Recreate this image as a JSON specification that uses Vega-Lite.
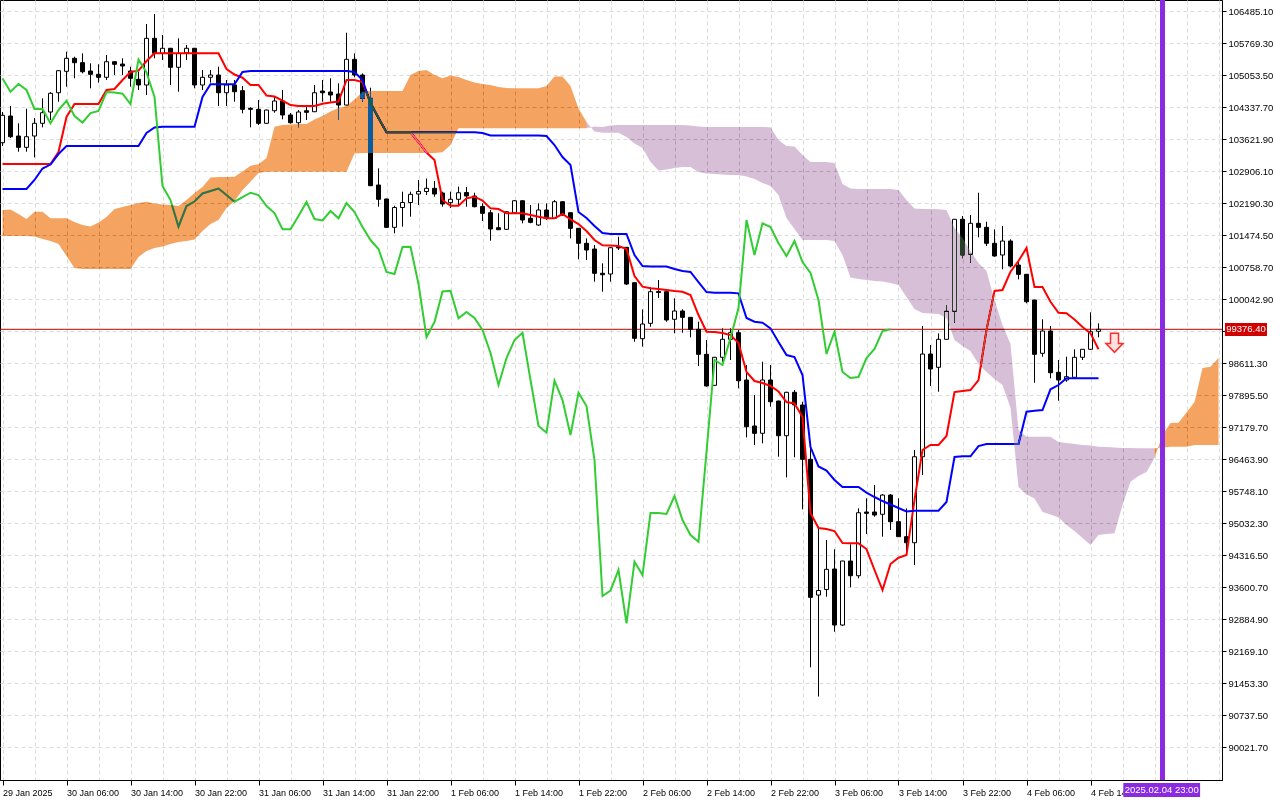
{
"$schema": "https://vega.github.io/schema/vega-lite/v6.json",
"width": 1222,
"height": 780,
"autosize": {"type": "none"},
"padding": {"left": 0, "top": 0, "right": 58, "bottom": 20},
"config": {
  "background": "white",
  "view": {"stroke": "#000000", "strokeWidth": 1},
  "axis": {"labelFont": "Liberation Sans", "labelColor": "#000000", "tickColor": "#000000", "domainColor": "#000000", "gridColor": "#dcdcdc", "gridDash": [4, 3], "gridWidth": 1}
},
"datasets": {
"bars": [
{"h":0,"open":103550,"high":104237,"low":103476,"close":104163,"tenkan":103074,"kijun":102514,"chikou":104986},
{"h":1,"open":104147,"high":104371,"low":103655,"close":103684,"tenkan":103074,"kijun":102514,"chikou":104691},
{"h":2,"open":103700,"high":103984,"low":103349,"close":103447,"tenkan":103074,"kijun":102514,"chikou":104863},
{"h":3,"open":103447,"high":104311,"low":103349,"close":103684,"tenkan":103074,"kijun":102514,"chikou":104729},
{"h":4,"open":103700,"high":104103,"low":103223,"close":103984,"tenkan":103074,"kijun":102716,"chikou":104304},
{"h":5,"open":103984,"high":104543,"low":103894,"close":104221,"tenkan":103074,"kijun":102973,"chikou":104304},
{"h":6,"open":104237,"high":104680,"low":104058,"close":104655,"tenkan":103074,"kijun":103062,"chikou":103984},
{"h":7,"open":104668,"high":105170,"low":104467,"close":105161,"tenkan":103342,"kijun":103297,"chikou":104281},
{"h":8,"open":105147,"high":105586,"low":104803,"close":105438,"tenkan":104125,"kijun":103476,"chikou":104489},
{"h":9,"open":105438,"high":105474,"low":104991,"close":105340,"tenkan":104416,"kijun":103476,"chikou":104147},
{"h":10,"open":105340,"high":105550,"low":105102,"close":105138,"tenkan":104416,"kijun":103476,"chikou":104002},
{"h":11,"open":105154,"high":105326,"low":104767,"close":105080,"tenkan":104416,"kijun":103476,"chikou":104214},
{"h":12,"open":105080,"high":105304,"low":104892,"close":105013,"tenkan":104416,"kijun":103476,"chikou":104259},
{"h":13,"open":105013,"high":105512,"low":104953,"close":105362,"tenkan":104729,"kijun":103476,"chikou":104684},
{"h":14,"open":105362,"high":105370,"low":105064,"close":105304,"tenkan":104751,"kijun":103476,"chikou":104673},
{"h":15,"open":105310,"high":105438,"low":105064,"close":105266,"tenkan":104953,"kijun":103476,"chikou":104646},
{"h":16,"open":105154,"high":105250,"low":104803,"close":104991,"tenkan":105131,"kijun":103476,"chikou":104416},
{"h":17,"open":104968,"high":105138,"low":104729,"close":104841,"tenkan":105161,"kijun":103476,"chikou":105411},
{"h":18,"open":104841,"high":106205,"low":104617,"close":105885,"tenkan":105378,"kijun":103767,"chikou":105120},
{"h":19,"open":105885,"high":106429,"low":105438,"close":105550,"tenkan":105550,"kijun":103890,"chikou":104572},
{"h":20,"open":105550,"high":105959,"low":105400,"close":105662,"tenkan":105550,"kijun":103908,"chikou":102581},
{"h":21,"open":105662,"high":105670,"low":104841,"close":105237,"tenkan":105550,"kijun":103908,"chikou":102268},
{"h":22,"open":105237,"high":105885,"low":104691,"close":105550,"tenkan":105550,"kijun":103908,"chikou":101671},
{"h":23,"open":105563,"high":105735,"low":105400,"close":105662,"tenkan":105550,"kijun":103908,"chikou":102134},
{"h":24,"open":105662,"high":105670,"low":104767,"close":104841,"tenkan":105550,"kijun":103908,"chikou":102235},
{"h":25,"open":104841,"high":105176,"low":104729,"close":105013,"tenkan":105550,"kijun":104572,"chikou":102414},
{"h":26,"open":105013,"high":105176,"low":104892,"close":105064,"tenkan":105550,"kijun":104856,"chikou":102470},
{"h":27,"open":105064,"high":105250,"low":104371,"close":104668,"tenkan":105550,"kijun":104856,"chikou":102525},
{"h":28,"open":104668,"high":104953,"low":104371,"close":104841,"tenkan":105199,"kijun":104856,"chikou":102380},
{"h":29,"open":104841,"high":104953,"low":104467,"close":104691,"tenkan":105076,"kijun":104856,"chikou":102230},
{"h":30,"open":104713,"high":104818,"low":104208,"close":104297,"tenkan":105004,"kijun":105131,"chikou":102335},
{"h":31,"open":104319,"high":104342,"low":103894,"close":104297,"tenkan":104841,"kijun":105154,"chikou":102431},
{"h":32,"open":104297,"high":104505,"low":103946,"close":103984,"tenkan":104841,"kijun":105154,"chikou":102380},
{"h":33,"open":103984,"high":104290,"low":103975,"close":104281,"tenkan":104606,"kijun":105154,"chikou":102134},
{"h":34,"open":104266,"high":104595,"low":104221,"close":104483,"tenkan":104583,"kijun":105154,"chikou":101977},
{"h":35,"open":104483,"high":104729,"low":104073,"close":104170,"tenkan":104494,"kijun":105154,"chikou":101613},
{"h":36,"open":104170,"high":104214,"low":103979,"close":103997,"tenkan":104393,"kijun":105154,"chikou":101613},
{"h":37,"open":103997,"high":104281,"low":103894,"close":104237,"tenkan":104371,"kijun":105154,"chikou":101910},
{"h":38,"open":104266,"high":104393,"low":104058,"close":104230,"tenkan":104371,"kijun":105154,"chikou":102223},
{"h":39,"open":104243,"high":104841,"low":104235,"close":104668,"tenkan":104371,"kijun":105154,"chikou":101843},
{"h":40,"open":104706,"high":104953,"low":104467,"close":104668,"tenkan":104422,"kijun":105154,"chikou":101810},
{"h":41,"open":104684,"high":104991,"low":104467,"close":104617,"tenkan":104449,"kijun":105154,"chikou":102022},
{"h":42,"open":104639,"high":104879,"low":104058,"close":104393,"tenkan":104472,"kijun":105154,"chikou":101859},
{"h":43,"open":104393,"high":106010,"low":104385,"close":105415,"tenkan":104953,"kijun":105154,"chikou":102201},
{"h":44,"open":105415,"high":105550,"low":105013,"close":105064,"tenkan":104953,"kijun":105131,"chikou":102000},
{"h":45,"open":105064,"high":105102,"low":104467,"close":104543,"tenkan":104908,"kijun":104953,"chikou":101664},
{"h":46,"open":104543,"high":104780,"low":102580,"close":102588,"tenkan":104438,"kijun":104438,"chikou":101373},
{"h":47,"open":102604,"high":102977,"low":102118,"close":102284,"tenkan":104103,"kijun":104103,"chikou":101172},
{"h":48,"open":102291,"high":102300,"low":101642,"close":101657,"tenkan":103783,"kijun":103783,"chikou":100658},
{"h":49,"open":101657,"high":102140,"low":101523,"close":102100,"tenkan":103783,"kijun":103783,"chikou":100613},
{"h":50,"open":102100,"high":102454,"low":101671,"close":102212,"tenkan":103783,"kijun":103783,"chikou":101217},
{"h":51,"open":102212,"high":102454,"low":101895,"close":102396,"tenkan":103783,"kijun":103783,"chikou":101224},
{"h":52,"open":102402,"high":102716,"low":102156,"close":102458,"tenkan":103566,"kijun":103783,"chikou":100389},
{"h":53,"open":102458,"high":102749,"low":102380,"close":102530,"tenkan":103331,"kijun":103783,"chikou":99204},
{"h":54,"open":102530,"high":102693,"low":102342,"close":102402,"tenkan":103163,"kijun":103783,"chikou":99539},
{"h":55,"open":102425,"high":102454,"low":102118,"close":102179,"tenkan":102268,"kijun":103783,"chikou":100221},
{"h":56,"open":102208,"high":102454,"low":102089,"close":102284,"tenkan":102141,"kijun":103783,"chikou":100239},
{"h":57,"open":102284,"high":102566,"low":102156,"close":102431,"tenkan":102141,"kijun":103783,"chikou":99622},
{"h":58,"open":102436,"high":102559,"low":102118,"close":102358,"tenkan":102306,"kijun":103783,"chikou":99763},
{"h":59,"open":102358,"high":102431,"low":102105,"close":102118,"tenkan":102342,"kijun":103783,"chikou":99629},
{"h":60,"open":102123,"high":102194,"low":101798,"close":101971,"tenkan":102257,"kijun":103767,"chikou":99360},
{"h":61,"open":101984,"high":102045,"low":101358,"close":101620,"tenkan":102082,"kijun":103711,"chikou":98846},
{"h":62,"open":101649,"high":101971,"low":101597,"close":101604,"tenkan":102067,"kijun":103711,"chikou":98130},
{"h":63,"open":101613,"high":102015,"low":101605,"close":102006,"tenkan":101971,"kijun":103711,"chikou":98734},
{"h":64,"open":101984,"high":102268,"low":101980,"close":102252,"tenkan":101971,"kijun":103711,"chikou":99137},
{"h":65,"open":102252,"high":102260,"low":101747,"close":101821,"tenkan":101971,"kijun":103711,"chikou":99300},
{"h":66,"open":101859,"high":102156,"low":101747,"close":101769,"tenkan":101933,"kijun":103711,"chikou":98242},
{"h":67,"open":101709,"high":102194,"low":101687,"close":102045,"tenkan":101895,"kijun":103711,"chikou":97213},
{"h":68,"open":102045,"high":102194,"low":101821,"close":101859,"tenkan":101859,"kijun":103700,"chikou":97063},
{"h":69,"open":101859,"high":102268,"low":101850,"close":102230,"tenkan":101859,"kijun":103499,"chikou":98226},
{"h":70,"open":102230,"high":102238,"low":101910,"close":101933,"tenkan":101955,"kijun":103230,"chikou":97794},
{"h":71,"open":101984,"high":101990,"low":101411,"close":101635,"tenkan":101837,"kijun":103051,"chikou":97012},
{"h":72,"open":101635,"high":101640,"low":100942,"close":101300,"tenkan":101731,"kijun":102000,"chikou":97958},
{"h":73,"open":101300,"high":101411,"low":100926,"close":101150,"tenkan":101575,"kijun":101866,"chikou":97660},
{"h":74,"open":101172,"high":101262,"low":100441,"close":100629,"tenkan":101373,"kijun":101687,"chikou":96452},
{"h":75,"open":100629,"high":100852,"low":100217,"close":100597,"tenkan":101255,"kijun":101530,"chikou":93410},
{"h":76,"open":100613,"high":101210,"low":100441,"close":101201,"tenkan":101250,"kijun":101508,"chikou":93529},
{"h":77,"open":101224,"high":101447,"low":101150,"close":101195,"tenkan":101239,"kijun":101508,"chikou":93992},
{"h":78,"open":101210,"high":101215,"low":100367,"close":100389,"tenkan":101172,"kijun":101508,"chikou":92799},
{"h":79,"open":100418,"high":100425,"low":99099,"close":99175,"tenkan":100568,"kijun":101038,"chikou":94177},
{"h":80,"open":99166,"high":99823,"low":98987,"close":99494,"tenkan":100329,"kijun":100792,"chikou":93880},
{"h":81,"open":99510,"high":100315,"low":99434,"close":100217,"tenkan":100293,"kijun":100781,"chikou":95267},
{"h":82,"open":100221,"high":100479,"low":100076,"close":100199,"tenkan":100277,"kijun":100781,"chikou":95267},
{"h":83,"open":100217,"high":100225,"low":99546,"close":99584,"tenkan":100255,"kijun":100781,"chikou":95244},
{"h":84,"open":99600,"high":100069,"low":99286,"close":99785,"tenkan":100233,"kijun":100725,"chikou":95647},
{"h":85,"open":99785,"high":99823,"low":99300,"close":99644,"tenkan":100217,"kijun":100680,"chikou":95110},
{"h":86,"open":99644,"high":99650,"low":99197,"close":99376,"tenkan":100143,"kijun":100658,"chikou":94775},
{"h":87,"open":99376,"high":99546,"low":98555,"close":98817,"tenkan":99696,"kijun":100434,"chikou":94625},
{"h":88,"open":98817,"high":99137,"low":98092,"close":98108,"tenkan":99322,"kijun":100210,"chikou":96631},
{"h":89,"open":98123,"high":98760,"low":98108,"close":98750,"tenkan":99315,"kijun":100195,"chikou":98689},
{"h":90,"open":98750,"high":99398,"low":98651,"close":99152,"tenkan":99293,"kijun":100195,"chikou":98577},
{"h":91,"open":99152,"high":99398,"low":98689,"close":99300,"tenkan":99248,"kijun":100195,"chikou":99181},
{"h":92,"open":99300,"high":99360,"low":98056,"close":98226,"tenkan":99069,"kijun":100181,"chikou":99852},
{"h":93,"open":98242,"high":98577,"low":96960,"close":97197,"tenkan":98421,"kijun":99629,"chikou":101821},
{"h":94,"open":97213,"high":97906,"low":96788,"close":97050,"tenkan":98219,"kijun":99546,"chikou":101038},
{"h":95,"open":97050,"high":98651,"low":96826,"close":98242,"tenkan":98175,"kijun":99524,"chikou":101747},
{"h":96,"open":98242,"high":98577,"low":97645,"close":97756,"tenkan":98108,"kijun":99398,"chikou":101664},
{"h":97,"open":97772,"high":97780,"low":96526,"close":96996,"tenkan":97984,"kijun":99092,"chikou":101300},
{"h":98,"open":96996,"high":97980,"low":96065,"close":97967,"tenkan":97750,"kijun":98801,"chikou":101016},
{"h":99,"open":97967,"high":98018,"low":96513,"close":97683,"tenkan":97716,"kijun":98756,"chikou":101351},
{"h":100,"open":97683,"high":97756,"low":95350,"close":96468,"tenkan":97414,"kijun":98354,"chikou":100881},
{"h":101,"open":96468,"high":96862,"low":91815,"close":93381,"tenkan":95267,"kijun":96743,"chikou":100635},
{"h":102,"open":93432,"high":94954,"low":91162,"close":93533,"tenkan":94931,"kijun":96307,"chikou":100031},
{"h":103,"open":93556,"high":94663,"low":93394,"close":94007,"tenkan":94909,"kijun":96217,"chikou":98823},
{"h":104,"open":94014,"high":94455,"low":92612,"close":92761,"tenkan":94864,"kijun":96005,"chikou":99322},
{"h":105,"open":92761,"high":94200,"low":92739,"close":94193,"tenkan":94596,"kijun":95848,"chikou":98421},
{"h":106,"open":94193,"high":94567,"low":93605,"close":93864,"tenkan":94589,"kijun":95848,"chikou":98287},
{"h":107,"open":93864,"high":95372,"low":93806,"close":95273,"tenkan":94589,"kijun":95848,"chikou":98309},
{"h":108,"open":95289,"high":95596,"low":94797,"close":95260,"tenkan":94461,"kijun":95725,"chikou":98734},
{"h":109,"open":95289,"high":95893,"low":95184,"close":95222,"tenkan":93992,"kijun":95625,"chikou":98935},
{"h":110,"open":95238,"high":95692,"low":94737,"close":95669,"tenkan":93544,"kijun":95535,"chikou":99338},
{"h":111,"open":95669,"high":95692,"low":94886,"close":95072,"tenkan":94126,"kijun":95457,"chikou":99376},
{"h":112,"open":95072,"high":95596,"low":94730,"close":94737,"tenkan":94267,"kijun":95379},
{"h":113,"open":94737,"high":95372,"low":94401,"close":94602,"tenkan":94327,"kijun":95300},
{"h":114,"open":94602,"high":96676,"low":94103,"close":96526,"tenkan":95558,"kijun":95318},
{"h":115,"open":96526,"high":99450,"low":96117,"close":98823,"tenkan":96676,"kijun":95318},
{"h":116,"open":98823,"high":99025,"low":98108,"close":98488,"tenkan":96788,"kijun":95318},
{"h":117,"open":98526,"high":99286,"low":97980,"close":99152,"tenkan":96788,"kijun":95318},
{"h":118,"open":99152,"high":99920,"low":99145,"close":99779,"tenkan":96989,"kijun":95513},
{"h":119,"open":99779,"high":101845,"low":99524,"close":101837,"tenkan":97973,"kijun":96519},
{"h":120,"open":101837,"high":101910,"low":100964,"close":101038,"tenkan":97996,"kijun":96535},
{"h":121,"open":101054,"high":101933,"low":100866,"close":101747,"tenkan":98018,"kijun":96535},
{"h":122,"open":101747,"high":102431,"low":101434,"close":101657,"tenkan":98242,"kijun":96765},
{"h":123,"open":101657,"high":101783,"low":101239,"close":101300,"tenkan":99360,"kijun":96810},
{"h":124,"open":101300,"high":101613,"low":101000,"close":101016,"tenkan":100233,"kijun":96810},
{"h":125,"open":101038,"high":101687,"low":100718,"close":101351,"tenkan":100255,"kijun":96810},
{"h":126,"open":101351,"high":101389,"low":100763,"close":100792,"tenkan":100664,"kijun":96810},
{"h":127,"open":100814,"high":100926,"low":100494,"close":100606,"tenkan":100904,"kijun":96810},
{"h":128,"open":100606,"high":100615,"low":99958,"close":99993,"tenkan":101195,"kijun":97533},
{"h":129,"open":100031,"high":100040,"low":98181,"close":98817,"tenkan":100322,"kijun":97555},
{"h":130,"open":98839,"high":99600,"low":98763,"close":99338,"tenkan":100322,"kijun":97571},
{"h":131,"open":99338,"high":99450,"low":98280,"close":98405,"tenkan":99993,"kijun":98034},
{"h":132,"open":98414,"high":98689,"low":97779,"close":98242,"tenkan":99747,"kijun":98130},
{"h":133,"open":98242,"high":98763,"low":98204,"close":98316,"tenkan":99734,"kijun":98280},
{"h":134,"open":98302,"high":98929,"low":98280,"close":98750,"tenkan":99595,"kijun":98280},
{"h":135,"open":98750,"high":98935,"low":98689,"close":98929,"tenkan":99427,"kijun":98280},
{"h":136,"open":98929,"high":99756,"low":98913,"close":99322,"tenkan":99286,"kijun":98280},
{"h":137,"open":99331,"high":99510,"low":99197,"close":99376.4,"tenkan":98929,"kijun":98280}
],
"kumo": [
{"h":0,"spanA":102045,"spanB":101463},{"h":1,"spanA":102056,"spanB":101463},{"h":2,"spanA":101955,"spanB":101463},{"h":3,"spanA":101843,"spanB":101463},
{"h":4,"spanA":102006,"spanB":101452},{"h":5,"spanA":102006,"spanB":101396},{"h":6,"spanA":101859,"spanB":101351},{"h":7,"spanA":101859,"spanB":101284},
{"h":8,"spanA":101859,"spanB":101016},{"h":9,"spanA":101776,"spanB":100747},{"h":10,"spanA":101709,"spanB":100725},{"h":11,"spanA":101675,"spanB":100725},
{"h":12,"spanA":101765,"spanB":100725},{"h":13,"spanA":101888,"spanB":100725},{"h":14,"spanA":102067,"spanB":100725},{"h":15,"spanA":102112,"spanB":100725},
{"h":16,"spanA":102156,"spanB":100725},{"h":17,"spanA":102201,"spanB":100993},{"h":18,"spanA":102230,"spanB":101127},{"h":19,"spanA":102190,"spanB":101195},
{"h":20,"spanA":102168,"spanB":101228},{"h":21,"spanA":102156,"spanB":101284},{"h":22,"spanA":102134,"spanB":101329},{"h":23,"spanA":102268,"spanB":101351},
{"h":24,"spanA":102425,"spanB":101385},{"h":25,"spanA":102559,"spanB":101575},{"h":26,"spanA":102772,"spanB":101731},{"h":27,"spanA":102783,"spanB":101821},
{"h":28,"spanA":102783,"spanB":102089},{"h":29,"spanA":102789,"spanB":102246},{"h":30,"spanA":102906,"spanB":102492},{"h":31,"spanA":103036,"spanB":102678},
{"h":32,"spanA":103067,"spanB":102872},{"h":33,"spanA":103208,"spanB":102901},{"h":34,"spanA":103908,"spanB":102901},{"h":35,"spanA":103946,"spanB":102901},
{"h":36,"spanA":103957,"spanB":102901},{"h":37,"spanA":103968,"spanB":102901},{"h":38,"spanA":103968,"spanB":102901},{"h":39,"spanA":104069,"spanB":102901},
{"h":40,"spanA":104147,"spanB":102901},{"h":41,"spanA":104248,"spanB":102901},{"h":42,"spanA":104326,"spanB":102901},{"h":43,"spanA":104371,"spanB":102901},
{"h":44,"spanA":104516,"spanB":103308},{"h":45,"spanA":104691,"spanB":103320},{"h":46,"spanA":104706,"spanB":103320},{"h":47,"spanA":104706,"spanB":103320},
{"h":48,"spanA":104706,"spanB":103320},{"h":49,"spanA":104706,"spanB":103320},{"h":50,"spanA":104706,"spanB":103320},{"h":51,"spanA":105064,"spanB":103320},
{"h":52,"spanA":105154,"spanB":103320},{"h":53,"spanA":105176,"spanB":103320},{"h":54,"spanA":105064,"spanB":103320},{"h":55,"spanA":104991,"spanB":103335},
{"h":56,"spanA":105053,"spanB":103499},{"h":57,"spanA":105020,"spanB":103872},{"h":58,"spanA":104953,"spanB":103872},{"h":59,"spanA":104897,"spanB":103872},
{"h":60,"spanA":104863,"spanB":103872},{"h":61,"spanA":104841,"spanB":103872},{"h":62,"spanA":104796,"spanB":103872},{"h":63,"spanA":104774,"spanB":103872},
{"h":64,"spanA":104767,"spanB":103872},{"h":65,"spanA":104767,"spanB":103872},{"h":66,"spanA":104767,"spanB":103872},{"h":67,"spanA":104767,"spanB":103872},
{"h":68,"spanA":104818,"spanB":103872},{"h":69,"spanA":105031,"spanB":103872},{"h":70,"spanA":105031,"spanB":103872},{"h":71,"spanA":104818,"spanB":103872},
{"h":72,"spanA":104315,"spanB":103872},{"h":73,"spanA":104013,"spanB":103872},
{"h":74,"spanA":103800,"spanB":103912},{"h":75,"spanA":103774,"spanB":103901},{"h":76,"spanA":103774,"spanB":103935},{"h":77,"spanA":103774,"spanB":103946},
{"h":78,"spanA":103677,"spanB":103946},{"h":79,"spanA":103532,"spanB":103946},{"h":80,"spanA":103431,"spanB":103946},{"h":81,"spanA":103118,"spanB":103946},
{"h":82,"spanA":102928,"spanB":103946},{"h":83,"spanA":102951,"spanB":103946},{"h":84,"spanA":102984,"spanB":103946},{"h":85,"spanA":103006,"spanB":103946},
{"h":86,"spanA":103006,"spanB":103935},{"h":87,"spanA":102895,"spanB":103912},{"h":88,"spanA":102861,"spanB":103901},{"h":89,"spanA":102850,"spanB":103901},
{"h":90,"spanA":102839,"spanB":103901},{"h":91,"spanA":102827,"spanB":103901},{"h":92,"spanA":102827,"spanB":103901},{"h":93,"spanA":102794,"spanB":103901},
{"h":94,"spanA":102738,"spanB":103901},{"h":95,"spanA":102649,"spanB":103901},{"h":96,"spanA":102581,"spanB":103894},{"h":97,"spanA":102380,"spanB":103610},
{"h":98,"spanA":101866,"spanB":103476},{"h":99,"spanA":101620,"spanB":103465},{"h":100,"spanA":101373,"spanB":103275},{"h":101,"spanA":101373,"spanB":103118},
{"h":102,"spanA":101373,"spanB":103118},{"h":103,"spanA":101373,"spanB":103118},{"h":104,"spanA":101351,"spanB":103096},{"h":105,"spanA":101038,"spanB":102626},
{"h":106,"spanA":100535,"spanB":102525},{"h":107,"spanA":100501,"spanB":102514},{"h":108,"spanA":100479,"spanB":102514},{"h":109,"spanA":100456,"spanB":102514},
{"h":110,"spanA":100445,"spanB":102514},{"h":111,"spanA":100412,"spanB":102514},{"h":112,"spanA":100367,"spanB":102492},{"h":113,"spanA":100098,"spanB":102268},
{"h":114,"spanA":99830,"spanB":102078},{"h":115,"spanA":99741,"spanB":102067},{"h":116,"spanA":99729,"spanB":102067},{"h":117,"spanA":99718,"spanB":102060},
{"h":118,"spanA":99629,"spanB":102045},{"h":119,"spanA":99137,"spanB":101642},{"h":120,"spanA":99002,"spanB":101418},{"h":121,"spanA":98891,"spanB":101127},
{"h":122,"spanA":98600,"spanB":100859},{"h":123,"spanA":98421,"spanB":100680},{"h":124,"spanA":98264,"spanB":100031},{"h":125,"spanA":98130,"spanB":99472},
{"h":126,"spanA":97615,"spanB":99047},{"h":127,"spanA":95848,"spanB":97123},{"h":128,"spanA":95681,"spanB":96974},{"h":129,"spanA":95591,"spanB":96974},
{"h":130,"spanA":95289,"spanB":96974},{"h":131,"spanA":95233,"spanB":96974},{"h":132,"spanA":95166,"spanB":96855},{"h":133,"spanA":94998,"spanB":96833},
{"h":134,"spanA":94864,"spanB":96810},{"h":135,"spanA":94708,"spanB":96788},{"h":136,"spanA":94551,"spanB":96777},{"h":137,"spanA":94775,"spanB":96750},
{"h":138,"spanA":94797,"spanB":96743},{"h":139,"spanA":94813,"spanB":96732},{"h":140,"spanA":95446,"spanB":96721},{"h":141,"spanA":95967,"spanB":96721},
{"h":142,"spanA":96094,"spanB":96714},{"h":143,"spanA":96184,"spanB":96714},{"h":144,"spanA":96497,"spanB":96714},
{"h":145,"spanA":97012,"spanB":96732},{"h":146,"spanA":97280,"spanB":96750},{"h":147,"spanA":97287,"spanB":96750},{"h":148,"spanA":97515,"spanB":96750},
{"h":149,"spanA":97750,"spanB":96788},{"h":150,"spanA":98510,"spanB":96788},{"h":151,"spanA":98539,"spanB":96788},{"h":152,"spanA":98734,"spanB":96788}
]
},
"layer": [
{
  "data": {"name": "bars"},
  "mark": {"type": "rule", "color": "#000000", "strokeWidth": 1},
  "encoding": {
    "x": {"field": "h", "type": "quantitative", "scale": {"domain": [-0.3125, 152.4375], "nice": false, "zero": false, "padding": 0},
      "axis": {"orient": "bottom", "title": null, "tickCount": 500, "values": [0,4,8,12,16,20,24,28,32,36,40,44,48,52,56,60,64,68,72,76,80,84,88,92,96,100,104,108,112,116,120,124,128,132,136,140,144,148,152],
        "labelExpr": "datum.value % 8 === 0 && datum.value <= 136 ? ['29 Jan 2025','30 Jan 06:00','30 Jan 14:00','30 Jan 22:00','31 Jan 06:00','31 Jan 14:00','31 Jan 22:00','1 Feb 06:00','1 Feb 14:00','1 Feb 22:00','2 Feb 06:00','2 Feb 14:00','2 Feb 22:00','3 Feb 06:00','3 Feb 14:00','3 Feb 22:00','4 Feb 06:00','4 Feb 14:00'][datum.value / 8] : ''",
        "labelAlign": "left", "labelPadding": 3, "labelFontSize": 9, "labelOverlap": false, "labelFlush": false,
        "tickSize": 5, "tickOpacity": {"condition": {"test": "datum.value % 8 === 0 && datum.value <= 136", "value": 1}, "value": 0},
        "grid": true, "domain": true}},
    "y": {"field": "low", "type": "quantitative", "scale": {"domain": [89294.7, 106742.3], "nice": false, "zero": false},
      "axis": {"orient": "right", "title": null, "tickCount": 500,
        "values": [90021.7,90737.5,91453.3,92169.1,92884.9,93600.7,94316.5,95032.3,95748.1,96463.9,97179.7,97895.5,98611.3,99327.1,100042.9,100758.7,101474.5,102190.3,102906.1,103621.9,104337.7,105053.5,105769.3,106485.1],
        "labelExpr": "datum.value === 99327.1 ? '' : format(datum.value, '.2f')",
        "labelFontSize": 9.5, "labelPadding": 2, "labelOverlap": false, "labelFlush": false, "tickSize": 4, "grid": true, "domain": true}},
    "y2": {"field": "high"}
  }
},
{
  "data": {"values": [{}]},
  "mark": {"type": "rule", "color": "#b40000", "strokeWidth": 1},
  "encoding": {
    "y": {"datum": 99376.4, "type": "quantitative", "scale": {"domain": [89294.7, 106742.3], "nice": false, "zero": false}}
  }
},
{
  "data": {"name": "bars"},
  "mark": {"type": "bar", "size": 4, "stroke": "#000000", "strokeWidth": 1},
  "encoding": {
    "x": {"field": "h", "type": "quantitative", "scale": {"domain": [-0.3125, 152.4375], "nice": false, "zero": false, "padding": 0}},
    "y": {"field": "open", "type": "quantitative", "scale": {"domain": [89294.7, 106742.3], "nice": false, "zero": false}},
    "y2": {"field": "close"},
    "fill": {"condition": {"test": "datum.close >= datum.open", "value": "#ffffff"}, "value": "#000000"}
  }
},
{
  "data": {"name": "bars"},
  "mark": {"type": "line", "color": "#ff0000", "strokeWidth": 2},
  "encoding": {
    "x": {"field": "h", "type": "quantitative", "scale": {"domain": [-0.3125, 152.4375], "nice": false, "zero": false, "padding": 0}},
    "y": {"field": "tenkan", "type": "quantitative", "scale": {"domain": [89294.7, 106742.3], "nice": false, "zero": false}}
  }
},
{
  "data": {"name": "bars"},
  "mark": {"type": "line", "color": "#0000ff", "strokeWidth": 2},
  "encoding": {
    "x": {"field": "h", "type": "quantitative", "scale": {"domain": [-0.3125, 152.4375], "nice": false, "zero": false, "padding": 0}},
    "y": {"field": "kijun", "type": "quantitative", "scale": {"domain": [89294.7, 106742.3], "nice": false, "zero": false}}
  }
},
{
  "data": {"name": "bars"},
  "mark": {"type": "line", "color": "#32cd32", "strokeWidth": 2},
  "encoding": {
    "x": {"field": "h", "type": "quantitative", "scale": {"domain": [-0.3125, 152.4375], "nice": false, "zero": false, "padding": 0}},
    "y": {"field": "chikou", "type": "quantitative", "scale": {"domain": [89294.7, 106742.3], "nice": false, "zero": false}}
  }
},
{
  "data": {"name": "kumo"},
  "transform": [{"filter": "datum.h <= 73"}],
  "mark": {"type": "area", "color": "#0b5b9f", "opacity": 1, "blend": "difference"},
  "encoding": {
    "x": {"field": "h", "type": "quantitative", "scale": {"domain": [-0.3125, 152.4375], "nice": false, "zero": false, "padding": 0}},
    "y": {"field": "spanA", "type": "quantitative", "scale": {"domain": [89294.7, 106742.3], "nice": false, "zero": false}},
    "y2": {"field": "spanB"}
  }
},
{
  "data": {"name": "kumo"},
  "transform": [{"filter": "datum.h >= 73 && datum.h <= 144"}],
  "mark": {"type": "area", "color": "#274027", "opacity": 1, "blend": "difference"},
  "encoding": {
    "x": {"field": "h", "type": "quantitative", "scale": {"domain": [-0.3125, 152.4375], "nice": false, "zero": false, "padding": 0}},
    "y": {"field": "spanA", "type": "quantitative", "scale": {"domain": [89294.7, 106742.3], "nice": false, "zero": false}},
    "y2": {"field": "spanB"}
  }
},
{
  "data": {"name": "kumo"},
  "transform": [{"filter": "datum.h >= 144"}],
  "mark": {"type": "area", "color": "#0b5b9f", "opacity": 1, "blend": "difference"},
  "encoding": {
    "x": {"field": "h", "type": "quantitative", "scale": {"domain": [-0.3125, 152.4375], "nice": false, "zero": false, "padding": 0}},
    "y": {"field": "spanA", "type": "quantitative", "scale": {"domain": [89294.7, 106742.3], "nice": false, "zero": false}},
    "y2": {"field": "spanB"}
  }
},
{
  "data": {"values": [{}]},
  "mark": {"type": "rule", "color": "#8a2be2", "strokeWidth": 5},
  "encoding": {
    "x": {"datum": 145, "type": "quantitative", "scale": {"domain": [-0.3125, 152.4375], "nice": false, "zero": false, "padding": 0}}
  }
},
{
  "data": {"values": [{}]},
  "mark": {"type": "point", "shape": "M-0.42,-1L0.42,-1L0.42,0.07L0.9,0.07L0,1L-0.9,0.07L-0.42,0.07Z", "size": 361, "filled": true, "fill": "#ffe0e0", "stroke": "#ff2a2a", "strokeWidth": 1.5, "opacity": 1},
  "encoding": {
    "x": {"datum": 139, "type": "quantitative", "scale": {"domain": [-0.3125, 152.4375], "nice": false, "zero": false, "padding": 0}},
    "y": {"datum": 99074, "type": "quantitative", "scale": {"domain": [89294.7, 106742.3], "nice": false, "zero": false}}
  }
},
{
  "data": {"values": [{}]},
  "mark": {"type": "rect", "color": "#d00000"},
  "encoding": {
    "x": {"datum": 152.81, "type": "quantitative", "scale": {"domain": [-0.3125, 152.4375], "nice": false, "zero": false, "padding": 0}},
    "x2": {"datum": 158.06},
    "y": {"datum": 99517, "type": "quantitative", "scale": {"domain": [89294.7, 106742.3], "nice": false, "zero": false}},
    "y2": {"datum": 99226}
  }
},
{
  "data": {"values": [{}]},
  "mark": {"type": "text", "color": "#ffffff", "font": "Liberation Sans", "fontSize": 9.5, "align": "center", "baseline": "middle"},
  "encoding": {
    "x": {"datum": 155.44, "type": "quantitative", "scale": {"domain": [-0.3125, 152.4375], "nice": false, "zero": false, "padding": 0}},
    "y": {"datum": 99376.4, "type": "quantitative", "scale": {"domain": [89294.7, 106742.3], "nice": false, "zero": false}},
    "text": {"value": "99376.40"}
  }
},
{
  "data": {"values": [{}]},
  "mark": {"type": "rect", "color": "#8a2be2"},
  "encoding": {
    "x": {"datum": 140.1, "type": "quantitative", "scale": {"domain": [-0.3125, 152.4375], "nice": false, "zero": false, "padding": 0}},
    "x2": {"datum": 149.7},
    "y": {"datum": 89227, "type": "quantitative", "scale": {"domain": [89294.7, 106742.3], "nice": false, "zero": false}},
    "y2": {"datum": 88914}
  }
},
{
  "data": {"values": [{}]},
  "mark": {"type": "text", "color": "#ffffff", "font": "Liberation Sans", "fontSize": 9.5, "align": "center", "baseline": "middle"},
  "encoding": {
    "x": {"datum": 144.9, "type": "quantitative", "scale": {"domain": [-0.3125, 152.4375], "nice": false, "zero": false, "padding": 0}},
    "y": {"datum": 89071, "type": "quantitative", "scale": {"domain": [89294.7, 106742.3], "nice": false, "zero": false}},
    "text": {"value": "2025.02.04 23:00"}
  }
}
]
}
